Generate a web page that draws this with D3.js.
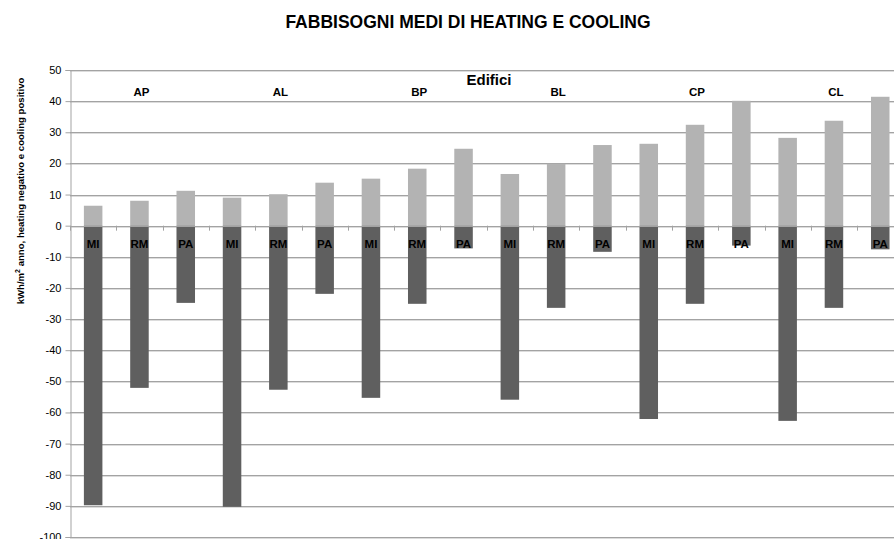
<!DOCTYPE html>
<html>
<head>
<meta charset="utf-8">
<script src="https://cdn.jsdelivr.net/npm/d3@7"></script>
<style>
  body { margin: 0; background: #fff; }
  svg { display: block; font-family: "Liberation Sans", Arial, sans-serif; }
</style>
</head>
<body>
<div id="chart"></div>
<script>
// Building groups and cities (one bar pair per city per building)
const groups = ['AP', 'AL', 'BP', 'BL', 'CP', 'CL'];
const cities = ['MI', 'RM', 'PA'];

// cooling (positive) and heating (negative), kWh/m2 anno
const cooling = [6.4, 8.0, 11.2, 9.0, 10.1, 13.8, 15.1, 18.3, 24.7, 16.6, 19.9, 25.9, 26.3, 32.4, 40.1, 28.2, 33.7, 41.4];
const heating = [-89.8, -52.1, -24.8, -90.3, -52.7, -21.9, -55.3, -25.1, -7.3, -55.9, -26.4, -8.4, -62.1, -25.1, -6.4, -62.7, -26.4, -7.6];

const yTicks = [50, 40, 30, 20, 10, 0, -10, -20, -30, -40, -50, -60, -70, -80, -90, -100];

const width = 894, height = 539;
const plotLeft = 70, plotTop = 70, plotBottom = 537;
const step = 46.3;

const rows = [];
groups.forEach((g, gi) => {
  cities.forEach((c, ci) => {
    const i = gi * cities.length + ci;
    rows.push({ id: g + '-' + c, group: g, city: c, cool: cooling[i], heat: heating[i] });
  });
});

const svg = d3.select('#chart').append('svg')
  .attr('width', width)
  .attr('height', height);

const x = d3.scaleBand()
  .domain(rows.map(d => d.id))
  .range([plotLeft, plotLeft + rows.length * step])
  .paddingInner(0.6)
  .paddingOuter(0.3);

const y = d3.scaleLinear()
  .domain([-100, 50])
  .range([plotBottom, plotTop]);

// Title
svg.append('text')
  .attr('x', 468)
  .attr('y', 28)
  .attr('text-anchor', 'middle')
  .attr('font-size', '17.5px')
  .attr('font-weight', 'bold')
  .attr('fill', '#000')
  .text('FABBISOGNI MEDI DI HEATING E COOLING');

// Gridlines
svg.append('g')
  .selectAll('line')
  .data(yTicks)
  .enter().append('line')
  .attr('x1', plotLeft)
  .attr('x2', width)
  .attr('y1', d => Math.round(y(d)) + 0.5)
  .attr('y2', d => Math.round(y(d)) + 0.5)
  .attr('stroke', '#a3a3a3')
  .attr('stroke-width', 1);

svg.append('g')
  .selectAll('line')
  .data(yTicks)
  .enter().append('line')
  .attr('x1', plotLeft)
  .attr('x2', width)
  .attr('y1', d => Math.round(y(d)) + 1.5)
  .attr('y2', d => Math.round(y(d)) + 1.5)
  .attr('stroke', '#dcdcdc')
  .attr('stroke-width', 1);

// Y axis (plain hyphen minus as in the original)
const yAxis = svg.append('g')
  .attr('transform', `translate(${plotLeft + 0.5},0)`)
  .call(d3.axisLeft(y).tickValues(yTicks).tickFormat(d => String(d)).tickSize(5).tickPadding(4));
yAxis.select('.domain').attr('stroke', '#a3a3a3');
yAxis.selectAll('.tick line').attr('stroke', '#a3a3a3');
yAxis.selectAll('text')
  .attr('font-size', '11px')
  .attr('font-family', '"Liberation Sans", Arial, sans-serif')
  .attr('fill', '#000');

// Y axis label
svg.append('text')
  .attr('transform', 'translate(24,191) rotate(-90)')
  .attr('text-anchor', 'middle')
  .attr('font-size', '9.6px')
  .attr('font-weight', 'bold')
  .attr('fill', '#000')
  .call(t => {
    t.append('tspan').text('kWh/m');
    t.append('tspan').attr('dy', '-4').attr('font-size', '7px').text('2');
    t.append('tspan').attr('dy', '4').text(' anno, heating negativo e cooling positivo');
  });

// Cooling bars
svg.append('g')
  .selectAll('rect')
  .data(rows)
  .enter().append('rect')
  .attr('x', d => x(d.id))
  .attr('y', d => y(d.cool))
  .attr('width', x.bandwidth())
  .attr('height', d => y(0) - y(d.cool))
  .attr('fill', '#b3b3b3');

// Heating bars
svg.append('g')
  .selectAll('rect')
  .data(rows)
  .enter().append('rect')
  .attr('x', d => x(d.id))
  .attr('y', y(0))
  .attr('width', x.bandwidth())
  .attr('height', d => y(d.heat) - y(0))
  .attr('fill', '#5f5f5f');

// Zero axis with ticks at band boundaries
svg.append('line')
  .attr('x1', plotLeft)
  .attr('x2', width)
  .attr('y1', Math.round(y(0)) + 0.5)
  .attr('y2', Math.round(y(0)) + 0.5)
  .attr('stroke', '#a3a3a3');

svg.append('g')
  .selectAll('line')
  .data(rows)
  .enter().append('line')
  .attr('x1', d => Math.round(x(d.id) - x.step() * x.paddingOuter()) + 0.5)
  .attr('x2', d => Math.round(x(d.id) - x.step() * x.paddingOuter()) + 0.5)
  .attr('y1', y(0))
  .attr('y2', y(0) + 5)
  .attr('stroke', '#a3a3a3');

// City labels
svg.append('g')
  .selectAll('text')
  .data(rows)
  .enter().append('text')
  .attr('x', d => x(d.id) + x.bandwidth() / 2)
  .attr('y', y(0) + 22)
  .attr('text-anchor', 'middle')
  .attr('font-size', '11.5px')
  .attr('font-weight', 'bold')
  .attr('fill', '#000')
  .text(d => d.city);

// Building labels (centred on the middle bar of each group)
svg.append('g')
  .selectAll('text')
  .data(groups)
  .enter().append('text')
  .attr('x', g => x(g + '-RM') + x.bandwidth() / 2 + 2)
  .attr('y', 96)
  .attr('text-anchor', 'middle')
  .attr('font-size', '11.5px')
  .attr('font-weight', 'bold')
  .attr('fill', '#000')
  .text(g => g);

svg.append('text')
  .attr('x', 489)
  .attr('y', 85)
  .attr('text-anchor', 'middle')
  .attr('font-size', '15px')
  .attr('font-weight', 'bold')
  .attr('fill', '#000')
  .text('Edifici');
</script>
</body>
</html>
